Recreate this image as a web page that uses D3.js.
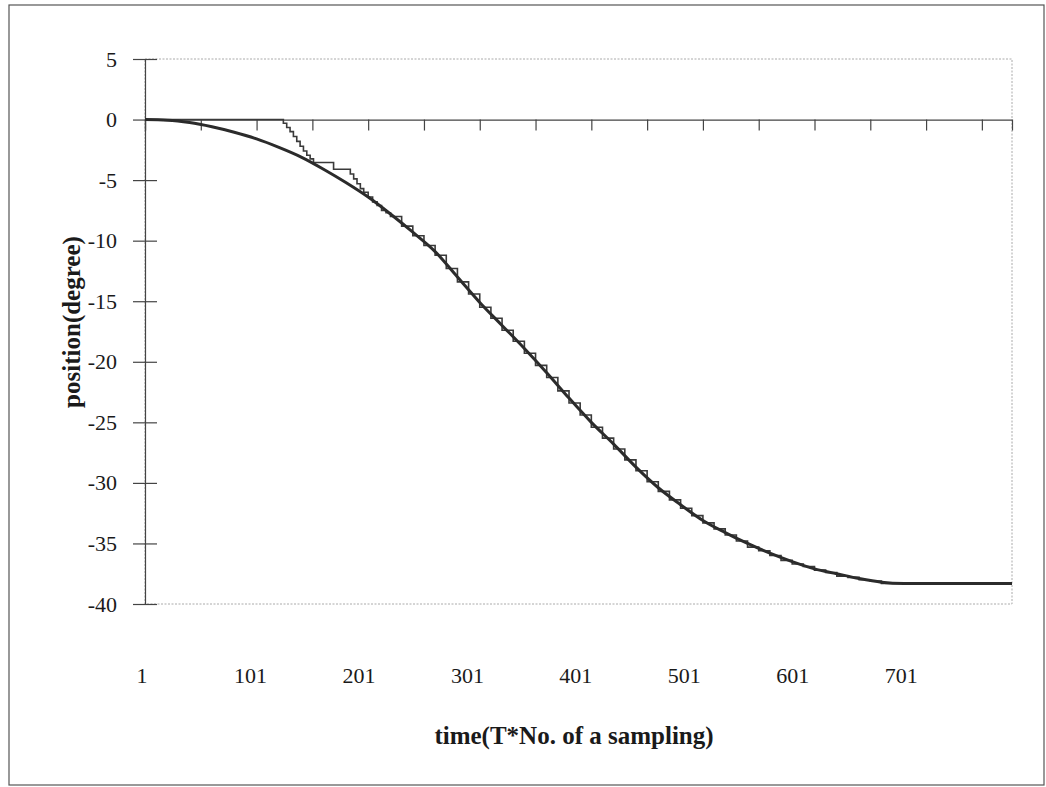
<!DOCTYPE html>
<html>
<head>
<meta charset="utf-8">
<script src="https://cdn.jsdelivr.net/npm/d3@7"></script>
<style>
  html, body { margin: 0; padding: 0; background: #fff; }
  svg { display: block; }
</style>
</head>
<body>
<div id="chart"></div>
<script>
// commanded position (smooth curve), read every 20 samples
const refSamples = [1, 21, 41, 61, 81, 101, 121, 141, 161, 181, 201, 221, 241, 261, 281, 301, 321, 341, 361, 381,
  401, 421, 441, 461, 481, 501, 521, 541, 561, 581, 601, 621, 641, 661, 681, 701, 721, 741, 761, 778];
const refValues = [0, -0.05, -0.25, -0.6, -1.05, -1.6, -2.3, -3.1, -4.1, -5.2, -6.4, -7.8, -9.3, -10.9, -13.0, -15.1, -17.0, -18.9, -20.9, -23.0,
  -25.0, -26.8, -28.7, -30.4, -31.8, -33.1, -34.1, -35.0, -35.8, -36.5, -37.1, -37.5, -37.9, -38.2, -38.3, -38.3, -38.3, -38.3, -38.3, -38.3];

// measured position (staircase), sample where each step starts and its level
const measSamples = [1, 125, 128, 131, 134, 137, 140, 143, 146, 149, 152, 170, 185, 188, 191, 194, 197, 201, 205, 209, 213, 217,
  221, 231, 241, 251, 261, 271, 281, 291, 301, 311, 321, 331, 341, 351, 361, 371, 381, 391, 401, 411, 421, 431, 441, 451,
  461, 471, 481, 491, 501, 511, 521, 531, 541, 551, 561, 571, 581, 591, 601, 611, 621, 631, 641, 651, 661, 778];
const measValues = [0, -0.3, -0.65, -1.0, -1.4, -1.8, -2.2, -2.6, -2.95, -3.25, -3.55, -4.1, -4.5, -4.9, -5.3, -5.7, -6.0, -6.4, -6.8, -7.1, -7.5, -7.7,
  -8.0, -8.8, -9.6, -10.4, -11.2, -12.3, -13.4, -14.4, -15.5, -16.4, -17.4, -18.3, -19.3, -20.3, -21.3, -22.4, -23.4, -24.4, -25.4, -26.3, -27.2, -28.1, -29.0, -29.9,
  -30.7, -31.4, -32.1, -32.7, -33.3, -33.8, -34.3, -34.8, -35.3, -35.6, -36.0, -36.4, -36.7, -36.9, -37.2, -37.4, -37.7, -37.8, -38.0, -38.1, -38.3, -38.3];

const yTicks = [5, 0, -5, -10, -15, -20, -25, -30, -35, -40];
const xTicks = d3.range(1, 778, 50);
const xLabels = [1, 101, 201, 301, 401, 501, 601, 701];

const width = 1046, height = 787;
const plot = { left: 145, right: 1012, top: 59, bottom: 604 };

const svg = d3.select("#chart").append("svg")
  .attr("width", width)
  .attr("height", height)
  .style("font-family", "'Liberation Serif', 'Times New Roman', serif");

// outer frame
svg.append("rect")
  .attr("x", 9).attr("y", 5)
  .attr("width", 1035).attr("height", 780)
  .attr("fill", "none")
  .attr("stroke", "#555")
  .attr("stroke-width", 1.2);

const x = d3.scaleLinear().domain([1, 778]).range([plot.left, plot.right]);
const y = d3.scaleLinear().domain([-40, 5]).range([plot.bottom, plot.top]);

// dotted plot area border
svg.append("rect")
  .attr("x", plot.left).attr("y", plot.top)
  .attr("width", plot.right - plot.left).attr("height", plot.bottom - plot.top)
  .attr("fill", "none")
  .attr("stroke", "#aaa")
  .attr("stroke-width", 1)
  .attr("stroke-dasharray", "2,1.5");

// y axis, ticks crossing the line
const yAxis = svg.append("g")
  .attr("transform", `translate(${plot.left},0)`)
  .call(d3.axisLeft(y).tickValues(yTicks).tickSize(12).tickPadding(16).tickFormat(d => String(d)));
yAxis.select(".domain").attr("stroke", "#444").attr("stroke-width", 1.2);
yAxis.selectAll(".tick line").attr("x1", 12).attr("stroke", "#444").attr("stroke-width", 1.2);
yAxis.selectAll(".tick text")
  .attr("font-size", 22)
  .attr("fill", "#1a1a1a")
  .attr("font-family", "'Liberation Serif', serif");

// x axis drawn at y = 0, ticks hanging down
const xAxis = svg.append("g")
  .attr("transform", `translate(0,${y(0)})`)
  .call(d3.axisBottom(x).tickValues(xTicks).tickSize(11).tickFormat(""));
xAxis.select(".domain").attr("stroke", "#444").attr("stroke-width", 1.2);
xAxis.selectAll(".tick line").attr("stroke", "#444").attr("stroke-width", 1.2);

// category labels sit low, under the plot; Excel spaces them a bit tighter than the ticks
const labelX = v => x(1) - 3 + (x(v) - x(1)) * 0.972;
svg.append("g").selectAll("text")
  .data(xLabels)
  .join("text")
  .attr("x", d => labelX(d))
  .attr("y", 683)
  .attr("text-anchor", "middle")
  .attr("font-size", 22)
  .attr("fill", "#1a1a1a")
  .text(d => d);

// series
const refData = refSamples.map((s, i) => [s, refValues[i]]);
const measData = measSamples.map((s, i) => [s, measValues[i]]);

svg.append("path")
  .datum(measData)
  .attr("fill", "none")
  .attr("stroke", "#3a3a3a")
  .attr("stroke-width", 1.6)
  .attr("d", d3.line().x(d => x(d[0])).y(d => y(d[1])).curve(d3.curveStepAfter));

svg.append("path")
  .datum(refData)
  .attr("fill", "none")
  .attr("stroke", "#2b2b2b")
  .attr("stroke-width", 3)
  .attr("d", d3.line().x(d => x(d[0])).y(d => y(d[1])).curve(d3.curveMonotoneX));

// axis titles
svg.append("text")
  .attr("x", 574)
  .attr("y", 744)
  .attr("text-anchor", "middle")
  .attr("font-size", 25)
  .attr("font-weight", "bold")
  .attr("fill", "#1a1a1a")
  .text("time(T*No. of a sampling)");

svg.append("text")
  .attr("transform", "translate(80,322) rotate(-90)")
  .attr("text-anchor", "middle")
  .attr("font-size", 25)
  .attr("font-weight", "bold")
  .attr("fill", "#1a1a1a")
  .text("position(degree)");
</script>
</body>
</html>
